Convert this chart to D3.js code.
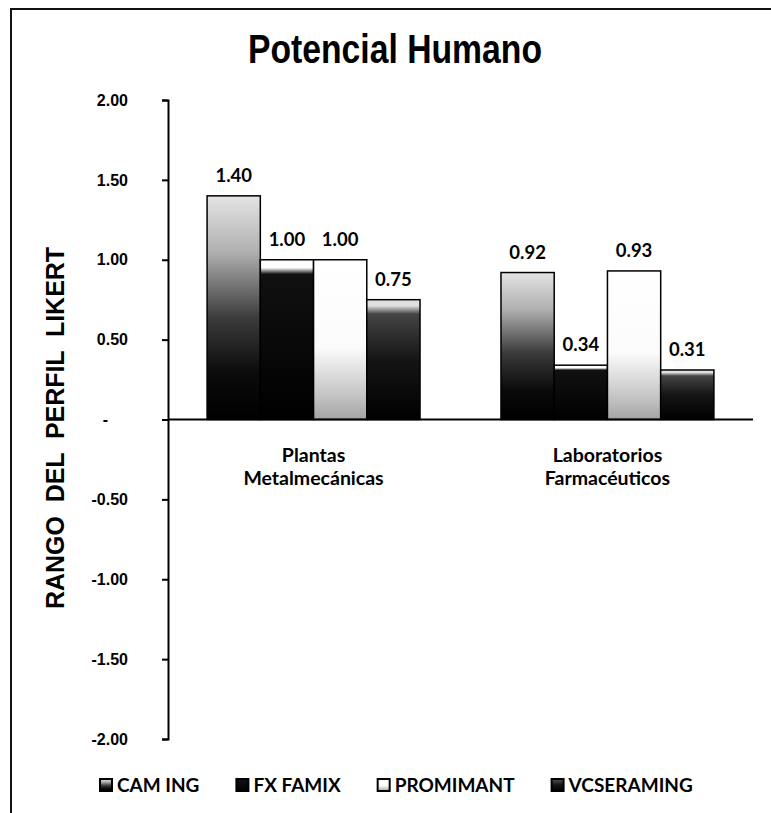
<!DOCTYPE html>
<html>
<head>
<meta charset="utf-8">
<script src="https://cdn.jsdelivr.net/npm/d3@7"></script>
<style>
  body { margin: 0; background: #fff; }
  svg { display: block; }
</style>
</head>
<body>
<div id="chart"></div>
<script>
const categories = ['Plantas\nMetalmecánicas', 'Laboratorios\nFarmacéuticos'];
const series = ['CAM ING', 'FX FAMIX', 'PROMIMANT', 'VCSERAMING'];
const camIng = [1.40, 0.92];
const fxFamix = [1.00, 0.34];
const promimant = [1.00, 0.93];
const vcSeraming = [0.75, 0.31];
const yTicks = [2, 1.5, 1, 0.5, 0, -0.5, -1, -1.5, -2];

const values = [camIng, fxFamix, promimant, vcSeraming];
const width = 771;
const height = 813;
const arial = '"Liberation Sans", Arial, sans-serif';
const calibri = 'Lato, "Open Sans", sans-serif';
const fmt = (v) => d3.format('.2f')(v).replace('−', '-');

const svg = d3
  .select('#chart')
  .append('svg')
  .attr('width', width)
  .attr('height', height);

// grey gradients that imitate the scanned fills
const gradients = [
  [[0, '#e4e4e4'], [0.25, '#b0b0b0'], [0.55, '#3a3a3a'], [0.8, '#0a0a0a'], [1, '#000000']],
  [[0, '#ffffff'], [0.05, '#ffffff'], [0.09, '#111111'], [1, '#000000']],
  [[0, '#ffffff'], [0.55, '#fbfbfb'], [0.85, '#c4c4c4'], [1, '#a4a4a4']],
  [[0, '#e0e0e0'], [0.05, '#e0e0e0'], [0.12, '#444444'], [0.5, '#151515'], [1, '#000000']],
];
const defs = svg.append('defs');
gradients.forEach((stops, i) => {
  const g = defs
    .append('linearGradient')
    .attr('id', 'fill' + i)
    .attr('x1', 0)
    .attr('y1', 0)
    .attr('x2', 0)
    .attr('y2', 1);
  stops.forEach((s) => g.append('stop').attr('offset', s[0]).attr('stop-color', s[1]));
});

// frame
svg
  .append('rect')
  .attr('x', 11)
  .attr('y', 9)
  .attr('width', 900)
  .attr('height', 900)
  .attr('fill', 'none')
  .attr('stroke', '#111')
  .attr('stroke-width', 2);

svg
  .append('text')
  .attr('x', 248)
  .attr('y', 63)
  .attr('textLength', 294)
  .attr('lengthAdjust', 'spacingAndGlyphs')
  .style('font-family', arial)
  .style('font-weight', 'bold')
  .style('font-size', '41px')
  .text('Potencial Humano');

const y = d3.scaleLinear().domain([-2, 2]).range([739, 100]);
const x0 = d3
  .scaleBand()
  .domain(categories)
  .range([168, 753])
  .paddingInner(0.2755)
  .paddingOuter(0.133);
const x1 = d3.scaleBand().domain(series).range([0, x0.bandwidth()]);

// y axis
const yAxis = svg
  .append('g')
  .attr('transform', 'translate(168,0)')
  .call(
    d3
      .axisLeft(y)
      .tickValues(yTicks)
      .tickSize(6)
      .tickPadding(34)
      .tickFormat((d) => (d === 0 ? '-' : fmt(d)))
  );
yAxis.select('.domain').attr('stroke', '#000').attr('stroke-width', 2);
yAxis.selectAll('.tick line').attr('stroke', '#000').attr('stroke-width', 2);
yAxis
  .selectAll('.tick text')
  .attr('fill', '#000')
  .style('font-family', arial)
  .style('font-weight', 'bold')
  .style('font-size', '16px')
  .attr('dx', (d) => (d === 0 ? -20 : 0));

svg
  .append('text')
  .attr('transform', 'translate(64,428) rotate(-90)')
  .attr('text-anchor', 'middle')
  .attr('textLength', 362)
  .attr('lengthAdjust', 'spacingAndGlyphs')
  .style('font-family', arial)
  .style('font-weight', 'bold')
  .style('font-size', '26px')
  .style('white-space', 'pre')
  .text('RANGO  DEL  PERFIL  LIKERT');

// bars
const groups = svg
  .selectAll('.group')
  .data(categories)
  .enter()
  .append('g')
  .attr('transform', (d) => `translate(${x0(d)},0)`);

groups
  .selectAll('rect')
  .data((d, ci) => series.map((s, si) => ({ s, si, v: values[si][ci] })))
  .enter()
  .append('rect')
  .attr('x', (d) => x1(d.s))
  .attr('y', (d) => y(d.v))
  .attr('width', x1.bandwidth())
  .attr('height', (d) => y(0) - y(d.v))
  .attr('fill', (d) => `url(#fill${d.si})`)
  .attr('stroke', '#000')
  .attr('stroke-width', 1.5);

groups
  .selectAll('.val')
  .data((d, ci) => series.map((s, si) => ({ s, v: values[si][ci] })))
  .enter()
  .append('text')
  .attr('x', (d) => x1(d.s) + x1.bandwidth() / 2)
  .attr('y', (d) => y(d.v) - 14)
  .attr('text-anchor', 'middle')
  .style('font-family', calibri)
  .style('font-weight', 'bold')
  .style('font-size', '18.5px')
  .text((d) => fmt(d.v));

// zero line
svg
  .append('line')
  .attr('x1', 168)
  .attr('x2', 753)
  .attr('y1', y(0))
  .attr('y2', y(0))
  .attr('stroke', '#000')
  .attr('stroke-width', 2);

// category labels
groups.each(function (d) {
  const t = d3
    .select(this)
    .append('text')
    .attr('text-anchor', 'middle')
    .style('font-family', calibri)
    .style('font-weight', 'bold')
    .style('font-size', '19.5px');
  d.split('\n').forEach((line, i) => {
    t.append('tspan')
      .attr('x', x0.bandwidth() / 2)
      .attr('y', 462 + i * 23)
      .text(line);
  });
});

// legend
let lx = 100;
series.forEach((s, i) => {
  const item = svg.append('g').attr('transform', `translate(${lx},779)`);
  item
    .append('rect')
    .attr('width', 12)
    .attr('height', 12)
    .attr('fill', `url(#fill${i})`)
    .attr('stroke', '#000')
    .attr('stroke-width', 2);
  const label = item
    .append('text')
    .attr('x', 17)
    .attr('y', 13)
    .style('font-family', calibri)
    .style('font-weight', 'bold')
    .style('font-size', '19px')
    .text(s);
  lx += 17 + label.node().getComputedTextLength() + 37;
});
</script>
</body>
</html>
